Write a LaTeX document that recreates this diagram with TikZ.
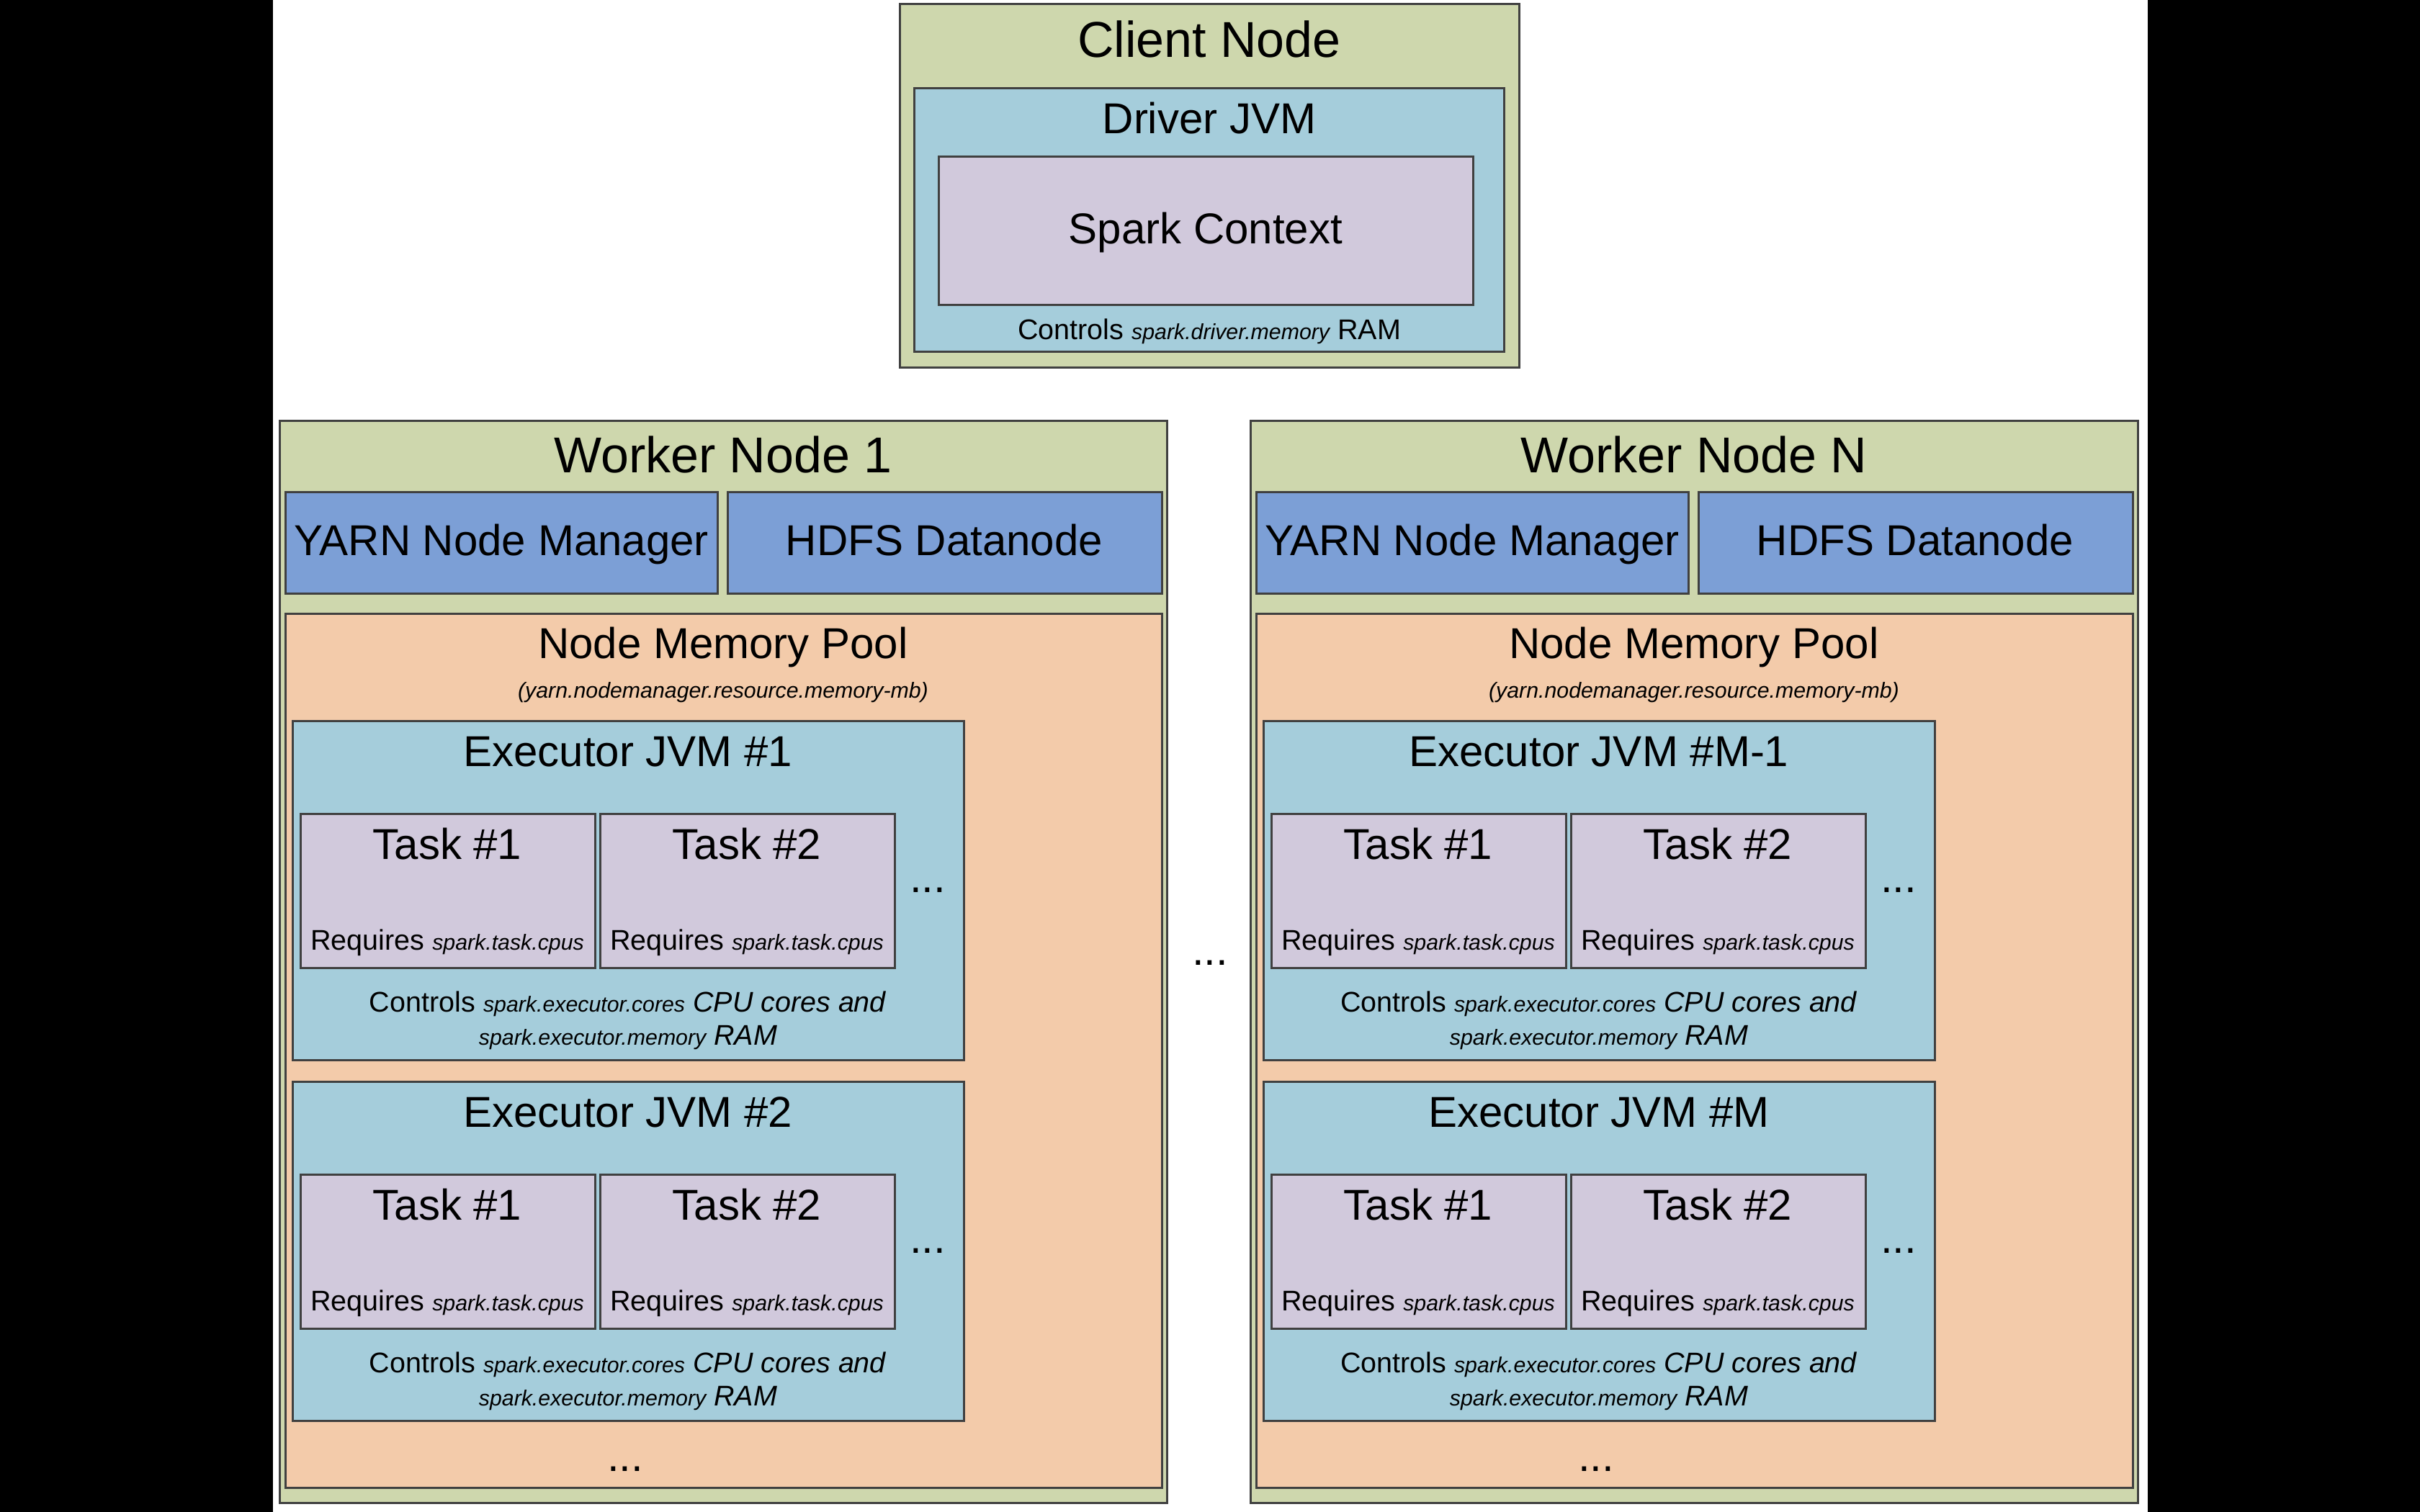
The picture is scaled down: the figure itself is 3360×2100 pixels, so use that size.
\documentclass[tikz,border=0pt]{standalone}
\usepackage{fontspec}
\setmainfont{Liberation Sans}
\definecolor{cgreen}{RGB}{206,215,173}
\definecolor{cteal}{RGB}{165,205,219}
\definecolor{clav}{RGB}{209,201,220}
\definecolor{cblue}{RGB}{124,159,214}
\definecolor{cpeach}{RGB}{243,203,170}
\definecolor{cedge}{RGB}{64,64,64}
\newcommand\fsBig{\fontsize{70}{80}\selectfont}
\newcommand\fsMid{\fontsize{60}{70}\selectfont}
\newcommand\fsSub{\fontsize{60}{70}\selectfont}
\newcommand\fsSmall{\fontsize{39.5}{46}\selectfont}
\newcommand\fsTiny{\fontsize{30.3}{36}\selectfont\itshape}
\tikzset{
  box/.style={draw=cedge, line width=3pt, inner sep=0pt, outer sep=0pt, anchor=north west},
  lbl/.style={anchor=base, inner sep=0pt, outer sep=0pt, text=black},
}
% executor: #1 prefix, #2 x shift, #3 y shift, #4 title
\newcommand\myexecutor[4]{%
\begin{scope}[shift={(#2,#3)}]
  \node[box, fill=cteal, minimum width=932pt, minimum height=471pt] (#1) at (406,1001) {};
  \node[lbl] (#1-t) at (872,1064) {\fsMid #4};
  \node[box, fill=clav, minimum width=409pt, minimum height=214pt] (#1-k1) at (417,1130) {};
  \node[box, fill=clav, minimum width=409pt, minimum height=214pt] (#1-k2) at (833,1130) {};
  \node[lbl] (#1-k1t) at (621,1193) {\fsMid Task \#1};
  \node[lbl] (#1-k2t) at (1037,1193) {\fsMid Task \#2};
  \node[lbl] (#1-k1r) at (621,1319) {\fsSmall Requires {\fsTiny spark.task.cpus}};
  \node[lbl] (#1-k2r) at (1037,1319) {\fsSmall Requires {\fsTiny spark.task.cpus}};
  \node[lbl] (#1-dots) at (1288,1239) {\fsMid ...};
  \node[lbl] (#1-c1) at (872,1405) {\fsSmall Controls {\fsTiny spark.executor.cores} \textit{CPU cores and}};
  \node[lbl] (#1-c2) at (872,1451) {\fsSmall{\fsTiny spark.executor.memory} \textit{RAM}};
\end{scope}}
% worker: #1 prefix, #2 x shift, #3 title, #4 exec title A, #5 exec title B
\newcommand\myworker[5]{%
\begin{scope}[shift={(#2,0)}]
  \node[box, fill=cgreen, minimum width=1232pt, minimum height=1503pt] (#1) at (388,584) {};
  \node[lbl] (#1-t) at (1004,656) {\fsBig #3};
  \node[box, fill=cblue, minimum width=600pt, minimum height=141pt] (#1-yarn) at (396,683) {};
  \node[box, fill=cblue, minimum width=603pt, minimum height=141pt] (#1-hdfs) at (1010,683) {};
  \node[lbl] (#1-yarnt) at (696,771) {\fsSub YARN Node Manager};
  \node[lbl] (#1-hdfst) at (1311,771) {\fsSub HDFS Datanode};
  \node[box, fill=cpeach, minimum width=1217pt, minimum height=1214pt] (#1-pool) at (396,852) {};
  \node[lbl] (#1-poolt) at (1004,914) {\fsSub Node Memory Pool};
  \node[lbl] (#1-pools) at (1004,969) {\fsTiny (yarn.nodemanager.resource.memory-mb)};
  \node[lbl] (#1-pooldots) at (868,2043) {\fsMid ...};
\end{scope}
\myexecutor{#1-ex1}{#2}{0}{#4}
\myexecutor{#1-ex2}{#2}{501}{#5}}
\begin{document}
\begin{tikzpicture}[x=1pt, y=-1pt]
  \useasboundingbox (0,0) rectangle (3360,2100);
  \fill[black] (0,0) rectangle (379,2100);
  \fill[white] (379,0) rectangle (2982,2100);
  \fill[black] (2982,0) rectangle (3360,2100);
  % client node
  \node[box, fill=cgreen, minimum width=860pt, minimum height=504pt] (client) at (1249,6) {};
  \node[lbl] (clientt) at (1679,80) {\fsBig Client Node};
  \node[box, fill=cteal, minimum width=819pt, minimum height=365pt] (driver) at (1269,123) {};
  \node[lbl] (drivert) at (1679,186) {\fsMid Driver JVM};
  \node[box, fill=clav, minimum width=742pt, minimum height=205pt] (spark) at (1303,218) {};
  \node[lbl] (sparkt) at (1674,338) {\fsMid Spark Context};
  \node[lbl] (driverc) at (1679,471) {\fsSmall Controls {\fsTiny spark.driver.memory} RAM};
  % workers
  \myworker{w1}{0}{Worker Node 1}{Executor JVM \#1}{Executor JVM \#2}
  \myworker{wn}{1348}{Worker Node N}{Executor JVM \#M-1}{Executor JVM \#M}
  \node[lbl] (middots) at (1680,1340) {\fsMid ...};
\end{tikzpicture}
\end{document}
